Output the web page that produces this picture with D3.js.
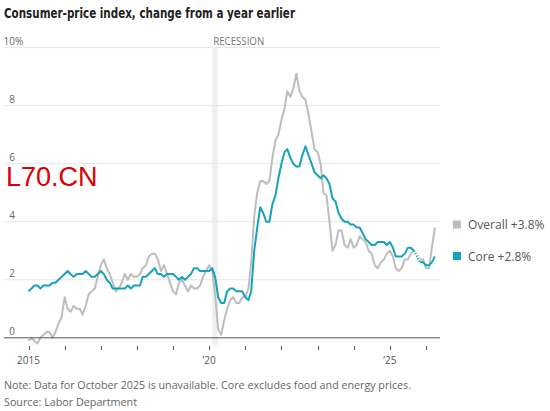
<!DOCTYPE html>
<html>
<head>
<meta charset="utf-8">
<script src="https://cdn.jsdelivr.net/npm/d3@7"></script>
<style>
    body { margin: 0; background: #fff; }
    svg { display: block; }
</style>
</head>
<body>
<svg id="chart" width="550" height="411"></svg>
<script>
// monthly year-over-year change, first value = Jan 2015, null = no data (Oct 2025)
var firstMonth = [2015, 0];

var overall = [
    -0.1, 0.0, -0.1, -0.2, 0.0, 0.1, 0.2, 0.2, 0.0, 0.2, 0.5, 0.7,   // 2015
    1.4, 1.0, 0.9, 1.1, 1.0, 1.0, 0.8, 1.1, 1.5, 1.6, 1.7, 2.1,      // 2016
    2.5, 2.7, 2.4, 2.2, 1.9, 1.6, 1.7, 1.9, 2.2, 2.0, 2.2, 2.1,      // 2017
    2.1, 2.2, 2.4, 2.5, 2.8, 2.9, 2.9, 2.7, 2.3, 2.5, 2.2, 1.9,      // 2018
    1.6, 1.5, 1.9, 2.0, 1.8, 1.6, 1.8, 1.7, 1.7, 1.8, 2.1, 2.3,      // 2019
    2.5, 2.3, 1.5, 0.3, 0.1, 0.6, 1.0, 1.3, 1.4, 1.2, 1.2, 1.4,      // 2020
    1.4, 1.7, 2.6, 4.2, 5.0, 5.4, 5.4, 5.3, 5.4, 6.2, 6.8, 7.0,      // 2021
    7.5, 7.9, 8.5, 8.3, 8.6, 9.1, 8.5, 8.3, 8.2, 7.7, 7.1, 6.5,      // 2022
    6.4, 6.0, 5.0, 4.9, 4.0, 3.0, 3.2, 3.7, 3.7, 3.2, 3.1, 3.4,      // 2023
    3.1, 3.2, 3.5, 3.4, 3.3, 3.0, 2.9, 2.5, 2.4, 2.6, 2.7, 2.9,      // 2024
    3.0, 2.8, 2.4, 2.3, 2.4, 2.7, 2.7, 2.9, 3.0, null, 2.7, 2.7,     // 2025
    2.4, 2.4, 3.1, 3.8                                               // 2026
];

var core = [
    1.6, 1.7, 1.8, 1.8, 1.7, 1.8, 1.8, 1.8, 1.9, 1.9, 2.0, 2.1,      // 2015
    2.2, 2.3, 2.2, 2.1, 2.2, 2.2, 2.2, 2.3, 2.2, 2.1, 2.1, 2.2,      // 2016
    2.3, 2.2, 2.0, 1.9, 1.7, 1.7, 1.7, 1.7, 1.7, 1.8, 1.7, 1.8,      // 2017
    1.8, 1.8, 2.1, 2.1, 2.2, 2.3, 2.4, 2.2, 2.2, 2.1, 2.2, 2.2,      // 2018
    2.2, 2.1, 2.0, 2.1, 2.0, 2.1, 2.2, 2.4, 2.4, 2.3, 2.3, 2.3,      // 2019
    2.3, 2.4, 2.1, 1.4, 1.2, 1.2, 1.6, 1.7, 1.7, 1.6, 1.6, 1.6,      // 2020
    1.4, 1.3, 1.6, 3.0, 3.8, 4.5, 4.3, 4.0, 4.0, 4.6, 4.9, 5.5,      // 2021
    6.0, 6.4, 6.5, 6.2, 6.0, 5.9, 5.9, 6.3, 6.6, 6.3, 6.0, 5.7,      // 2022
    5.6, 5.5, 5.6, 5.5, 5.3, 4.8, 4.7, 4.3, 4.1, 4.0, 4.0, 3.9,      // 2023
    3.9, 3.8, 3.8, 3.6, 3.4, 3.3, 3.2, 3.2, 3.3, 3.3, 3.3, 3.2,      // 2024
    3.3, 3.1, 2.8, 2.8, 2.8, 2.9, 3.1, 3.1, 3.0, null, 2.6, 2.6,     // 2025
    2.5, 2.5, 2.6, 2.8                                               // 2026
];

var yTicks = [0, 2, 4, 6, 8, 10];
var tickYears = [2015, 2016, 2017, 2018, 2019, 2020, 2021, 2022, 2023, 2024, 2025, 2026];
var yearLabels = { 2015: '2015', 2020: '\u201920', 2025: '\u201925' };
var recession = [new Date(Date.UTC(2020, 1, 1)), new Date(Date.UTC(2020, 3, 1))];
var legendItems = [
    { name: 'Overall', label: 'Overall +3.8%', last: 3.8 },
    { name: 'Core', label: 'Core +2.8%', last: 2.8 }
];
var titleText = 'Consumer-price index, change from a year earlier';
var noteText = 'Note: Data for October 2025 is unavailable. Core excludes food and energy prices.';
var sourceText = 'Source: Labor Department';

var colors = { Overall: '#bdbdbd', Core: '#17a2bb' };

function hasFont(name) {
    var c = document.createElement('canvas').getContext('2d');
    var s = 'abcdefghijklmnopqrstuvwxyzABCDEFGHIJ0123456789';
    return ['monospace', 'serif'].some(function(f) {
        c.font = '40px ' + f;
        var w0 = c.measureText(s).width;
        c.font = '40px "' + name + '", ' + f;
        return c.measureText(s).width !== w0;
    });
}

var bodyFont = ['Open Sans', 'Noto Sans', 'Lato'].find(hasFont) || 'sans-serif';
var titleFont = ['Liberation Sans Narrow', 'DejaVu Sans Condensed', 'Roboto Condensed', 'Roboto'].find(hasFont) || bodyFont;

function fit(sel, w) {
    var len = sel.node().getComputedTextLength();
    if (Math.abs(len - w) > 1) sel.attr('textLength', w).attr('lengthAdjust', 'spacingAndGlyphs');
}

function toSeries(values) {
    return values.map(function(v, i) {
        return { date: new Date(Date.UTC(firstMonth[0], firstMonth[1] + i, 1)), value: v };
    });
}

var series = [
    { name: 'Overall', data: toSeries(overall) },
    { name: 'Core', data: toSeries(core) }
];

var svg = d3.select('#chart');

var left = 4, right = 440;
var x = d3.scaleUtc()
    .domain([new Date(Date.UTC(2015, 0, 1)), new Date(Date.UTC(2026, 0, 1))])
    .range([28.5, 426]);
var y = d3.scaleLinear().domain([0, 10]).range([337.8, 47.6]);

// title
var title = svg.append('text')
    .attr('x', 4).attr('y', 18)
    .attr('font-family', titleFont)
    .attr('font-weight', 'bold')
    .attr('font-size', 14.5)
    .attr('fill', '#222')
    .text(titleText);
fit(title, 291);

// recession band
svg.append('rect')
    .attr('x', x(recession[0]))
    .attr('width', x(recession[1]) - x(recession[0]))
    .attr('y', y(10))
    .attr('height', 345 - y(10))
    .attr('fill', '#eef0f3');

var rec = svg.append('text')
    .attr('x', x(recession[0]) + 1).attr('y', y(10) - 3)
    .attr('font-family', bodyFont).attr('font-size', 10)
    .attr('fill', '#777')
    .text('RECESSION');
fit(rec, 51);

// grid
svg.append('g').selectAll('line')
    .data(yTicks.filter(function(d) { return d > 0; }))
    .enter().append('line')
    .attr('x1', left).attr('x2', right)
    .attr('y1', function(d) { return y(d); })
    .attr('y2', function(d) { return y(d); })
    .attr('stroke', '#e6e6e6')
    .attr('stroke-width', 1);

// y labels
var yLab = svg.append('g')
    .attr('font-family', bodyFont).attr('font-size', 10)
    .attr('fill', '#666');
yLab.selectAll('text')
    .data(yTicks)
    .enter().append('text')
    .attr('x', 15)
    .attr('y', function(d) { return y(d) - 3; })
    .attr('text-anchor', 'end')
    .text(function(d) { return d; });
yLab.append('text')
    .attr('x', 15).attr('y', y(10) - 3)
    .text('%');

// lines
var line = d3.line()
    .defined(function(d) { return d.value != null; })
    .x(function(d) { return x(d.date); })
    .y(function(d) { return y(d.value); });

series.forEach(function(s) {
    var g = svg.append('g');
    g.append('path')
        .datum(s.data)
        .attr('d', line)
        .attr('fill', 'none')
        .attr('stroke', colors[s.name])
        .attr('stroke-width', 2)
        .attr('stroke-linejoin', 'round');

    // dotted bridge over the missing month
    var gaps = [];
    s.data.forEach(function(d, i) {
        if (d.value == null && i > 0 && i < s.data.length - 1) gaps.push([s.data[i - 1], s.data[i + 1]]);
    });
    g.selectAll('.gap')
        .data(gaps)
        .enter().append('path')
        .attr('class', 'gap')
        .attr('d', d3.line().x(function(d) { return x(d.date); }).y(function(d) { return y(d.value); }))
        .attr('fill', 'none')
        .attr('stroke', colors[s.name])
        .attr('stroke-width', 2)
        .attr('stroke-dasharray', '1.2,1.6');
});

// x axis
svg.append('line')
    .attr('x1', left).attr('x2', right)
    .attr('y1', y(0)).attr('y2', y(0))
    .attr('stroke', '#555').attr('stroke-width', 1);

var ticks = svg.append('g');
ticks.selectAll('line')
    .data(tickYears)
    .enter().append('line')
    .attr('x1', function(d) { return Math.round(x(new Date(Date.UTC(d, 0, 1)))) + 0.5; })
    .attr('x2', function(d) { return Math.round(x(new Date(Date.UTC(d, 0, 1)))) + 0.5; })
    .attr('y1', 346).attr('y2', 350)
    .attr('stroke', '#555').attr('stroke-width', 1);

ticks.selectAll('text')
    .data(tickYears.filter(function(d) { return yearLabels[d]; }))
    .enter().append('text')
    .attr('x', function(d) { return x(new Date(Date.UTC(d, 0, 1))); })
    .attr('y', 364)
    .attr('text-anchor', 'middle')
    .attr('font-family', bodyFont).attr('font-size', 10)
    .attr('fill', '#555')
    .text(function(d) { return yearLabels[d]; });

// legend
var legend = svg.append('g').selectAll('g')
    .data(legendItems)
    .enter().append('g')
    .attr('transform', function(d, i) { return 'translate(453,' + [224.5, 256][i] + ')'; });

legend.append('rect')
    .attr('x', 0).attr('y', -4)
    .attr('width', 8).attr('height', 8)
    .attr('fill', function(d) { return colors[d.name]; });

legend.append('text')
    .attr('x', 15).attr('y', 4.5)
    .attr('font-family', bodyFont).attr('font-size', 12)
    .attr('fill', '#555')
    .text(function(d) { return d.label; })
    .each(function(d, i) { fit(d3.select(this), [77, 63][i]); });

// notes
var note = svg.append('text')
    .attr('x', 4).attr('y', 389)
    .attr('font-family', bodyFont).attr('font-size', 10.3)
    .attr('fill', '#666')
    .text(noteText);
fit(note, 407);

var src = svg.append('text')
    .attr('x', 4).attr('y', 405.5)
    .attr('font-family', bodyFont).attr('font-size', 10.3)
    .attr('fill', '#666')
    .text(sourceText);
fit(src, 133);

// watermark
svg.append('text')
    .attr('x', 6).attr('y', 186)
    .attr('font-family', 'Liberation Sans, Arial, sans-serif')
    .attr('font-size', 27)
    .attr('fill', '#dd0000')
    .text('L70.CN');
</script>
</body>
</html>
